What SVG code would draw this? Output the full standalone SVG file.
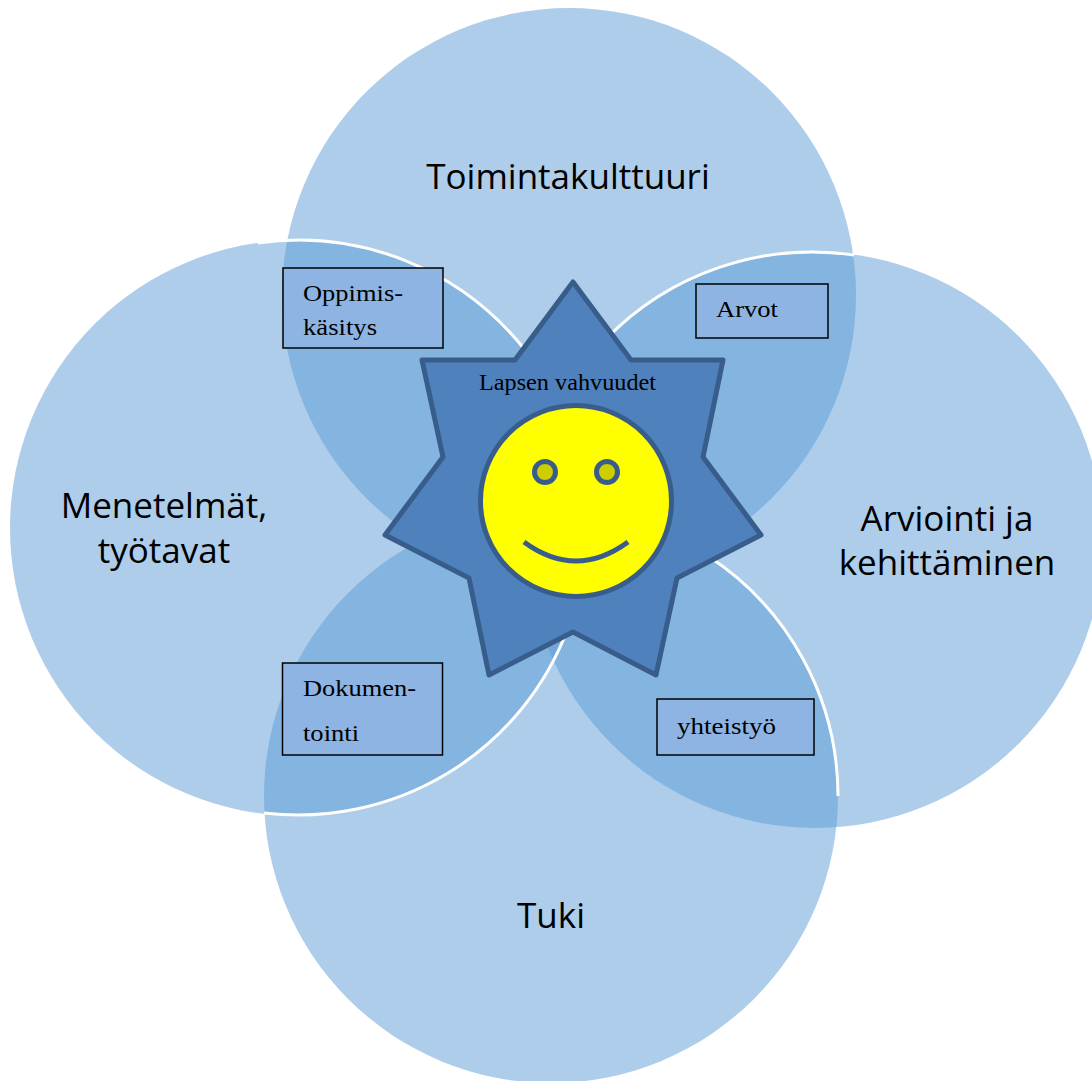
<svg xmlns="http://www.w3.org/2000/svg" width="1092" height="1081" viewBox="0 0 1092 1081">
<style>
.c{fill:#5B9BD5;fill-opacity:.5;stroke:none}
.w{fill:none;stroke:#fff;stroke-width:3}
.b{fill:#8EB4E3;stroke:#000;stroke-width:1.5}
.l{font-family:"Open Sans","Noto Sans",sans-serif;font-size:35px;fill:#000;text-anchor:middle}
.s{font-family:"Liberation Serif","DejaVu Serif",serif;font-size:24px;fill:#000}
.o{stroke:#385D8A;stroke-width:5}
</style>
<rect width="1092" height="1081" fill="#fff"/>
<g id="circles">
<circle id="circle-top" class="c" cx="569" cy="295" r="287"/>
<circle id="circle-right" class="c" cx="815" cy="540" r="288"/>
<circle id="circle-bottom" class="c" cx="551" cy="796" r="287"/>
<circle id="circle-left" class="c" cx="298" cy="528" r="288"/>
</g>
<g id="connectors">
<path class="w" d="M258 243A288 288 0 0 1 525 350"/>
<path class="w" d="M264 813A288 288 0 0 0 568 628"/>
<path class="w" d="M605 340A288 288 0 0 1 854 255"/>
<path class="w" d="M708 556A287 287 0 0 1 838 796"/>
</g>
<g id="star">
<polygon class="o" fill="#4F81BD" stroke-linejoin="round" points="573,282 631,360 723,360 703,457 761,535 677,578 656,675 573,632 489,675 469,578 385,535 443,457 422,360 515,360"/>
<text class="s" x="479" y="390" textLength="177" lengthAdjust="spacingAndGlyphs">Lapsen vahvuudet</text>
</g>
<g id="smiley">
<circle class="o" cx="576" cy="501" r="95.5" fill="#FFFF00"/>
<circle class="o" cx="545" cy="472" r="10.5" fill="#CDCD00"/>
<circle class="o" cx="607" cy="472" r="10.5" fill="#CDCD00"/>
<path class="o" fill="none" d="M524 542Q576 580 628 542"/>
</g>
<g id="node-oppimis"><rect class="b" x="283" y="268" width="160" height="80"/>
<text class="s" x="303" y="301" textLength="100" lengthAdjust="spacingAndGlyphs">Oppimis-</text>
<text class="s" x="303" y="335" textLength="74" lengthAdjust="spacingAndGlyphs">käsitys</text></g>
<g id="node-arvot"><rect class="b" x="696" y="284" width="132" height="54"/>
<text class="s" x="716" y="317" textLength="62" lengthAdjust="spacingAndGlyphs">Arvot</text></g>
<g id="node-dokumentointi"><rect class="b" x="282.500" y="663" width="160" height="92"/>
<text class="s" x="303" y="696" textLength="113" lengthAdjust="spacingAndGlyphs">Dokumen-</text>
<text class="s" x="303" y="741" textLength="56" lengthAdjust="spacingAndGlyphs">tointi</text></g>
<g id="node-yhteistyo"><rect class="b" x="657" y="699" width="157" height="56"/>
<text class="s" x="677" y="734" textLength="99" lengthAdjust="spacingAndGlyphs">yhteistyö</text></g>
<g id="labels">
<text class="l" x="568" y="189">Toimintakulttuuri</text>
<text class="l" x="164" y="518">Menetelmät,</text>
<text class="l" x="164" y="563">työtavat</text>
<text class="l" x="947" y="531">Arviointi ja</text>
<text class="l" x="947" y="575">kehittäminen</text>
<text class="l" x="551" y="928">Tuki</text>
</g>
</svg>
